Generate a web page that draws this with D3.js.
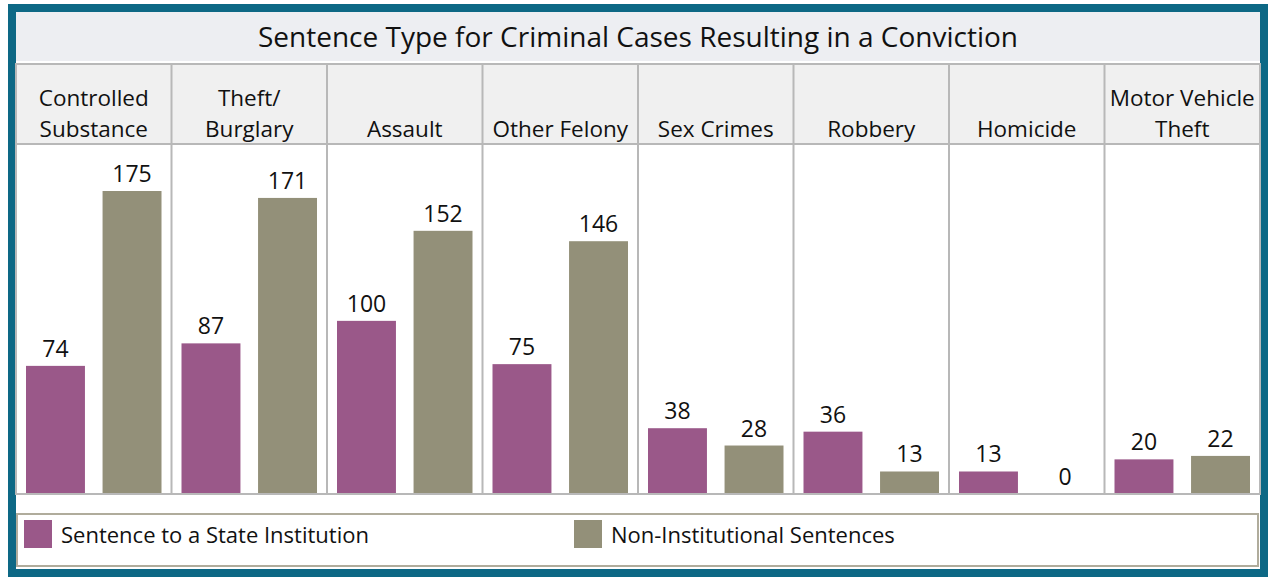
<!DOCTYPE html>
<html><head><meta charset="utf-8">
<script src="https://cdn.jsdelivr.net/npm/d3@7"></script>
<style>body{margin:0;background:#fff}svg{display:block}text{font-family:"Open Sans",sans-serif;fill:#111}</style>
</head><body><svg id="c" width="1268" height="577"></svg>
<script>
const title = "Sentence Type for Criminal Cases Resulting in a Conviction";
const categories = [["Controlled","Substance"],["Theft/","Burglary"],["Assault"],["Other Felony"],["Sex Crimes"],["Robbery"],["Homicide"],["Motor Vehicle","Theft"]];
const seriesNames = ["Sentence to a State Institution","Non-Institutional Sentences"];
const stateInst = [74,87,100,75,38,36,13,20];
const nonInst = [175,171,152,146,28,13,0,22];
const colors = ["#9a5889","#939079"];

const svg = d3.select("#c");
const L=16, R=1260, headTop=64, headBot=144, base=494;
// outer frame
svg.append("rect").attr("x",12).attr("y",8).attr("width",1252).attr("height",565)
  .attr("fill","#fff").attr("stroke","#0d6885").attr("stroke-width",8);
// title area
svg.append("rect").attr("x",16).attr("y",12).attr("width",1244).attr("height",49).attr("fill","#edeef2");
svg.append("text").attr("x",638).attr("y",47).attr("text-anchor","middle").attr("font-size",28).text(title);

const x = d3.scaleBand().domain(d3.range(categories.length)).range([L,R]).padding(0);
const y = d3.scaleLinear().domain([0,175]).range([base,191]);
const inner = d3.scaleBand().domain([0,1]).range([10,x.bandwidth()-10]).paddingInner(0.23).paddingOuter(0);

// header background
svg.append("rect").attr("x",L).attr("y",headTop).attr("width",R-L).attr("height",headBot-headTop).attr("fill","#f0f0f0");
// header labels
const hg = svg.append("g");
categories.forEach((lines,i)=>{
  const cx = x(i)+x.bandwidth()/2;
  const t = hg.append("text").attr("text-anchor","middle").attr("font-size",22.5);
  lines.forEach((ln,j)=>{
    const yy = 137 - (lines.length-1-j)*31;
    t.append("tspan").attr("x",cx).attr("y",yy).text(ln);
  });
});
// bars
const groups = svg.append("g").selectAll("g").data(categories).join("g").attr("transform",(d,i)=>`translate(${x(i)},0)`);
[stateInst,nonInst].forEach((vals,s)=>{
  groups.append("rect").attr("x",inner(s)).attr("width",inner.bandwidth())
    .attr("y",(d,i)=>y(vals[i])).attr("height",(d,i)=>base-y(vals[i])).attr("fill",colors[s]);
  groups.append("text").attr("x",inner(s)+inner.bandwidth()/2).attr("y",(d,i)=>y(vals[i])-9)
    .attr("text-anchor","middle").attr("font-size",23).text((d,i)=>vals[i]);
});
// grid lines
const gc="#b8b8b8";
const grid = svg.append("g").attr("stroke",gc).attr("stroke-width",2).attr("fill","none");
grid.append("rect").attr("x",L).attr("y",headTop).attr("width",R-L).attr("height",base-headTop);
grid.append("line").attr("x1",L).attr("x2",R).attr("y1",headBot).attr("y2",headBot);
d3.range(1,categories.length).forEach(i=>{
  grid.append("line").attr("x1",x(i)).attr("x2",x(i)).attr("y1",headTop).attr("y2",base);
});
// legend
svg.append("rect").attr("x",17).attr("y",514).attr("width",1241).attr("height",52).attr("fill","#fff").attr("stroke","#b0ac9c").attr("stroke-width",2);
const lx=[24,574];
seriesNames.forEach((n,s)=>{
  svg.append("rect").attr("x",lx[s]).attr("y",520).attr("width",28).attr("height",28).attr("fill",colors[s]);
  svg.append("text").attr("x",lx[s]+37).attr("y",543).attr("font-size",22).text(n);
});
</script></body></html>
